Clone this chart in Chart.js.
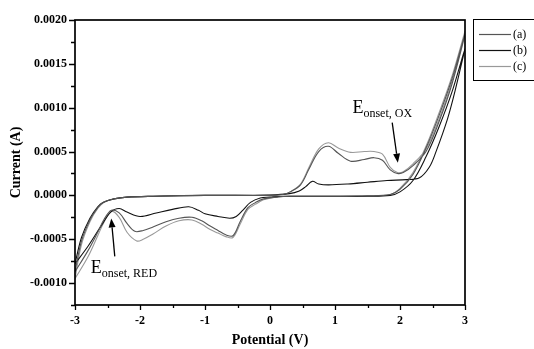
<!DOCTYPE html>
<html>
<head>
<meta charset="utf-8">
<script src="https://cdn.jsdelivr.net/npm/chart.js@4/dist/chart.umd.min.js"></script>
<style>
html,body{margin:0;padding:0;background:#fff;}
#wrap{position:relative;width:534px;height:349px;}
</style>
</head>
<body>
<div id="wrap"><canvas id="c" width="534" height="349"></canvas></div>
<script>
// ---- Data (potential in V, current in A), each curve is a closed CV loop ----
const seriesLabels = ['(a)', '(b)', '(c)'];
const seriesColors = ['#555555', '#111111', '#999999'];

// (a) - larger peaks, middle reduction curve
const potentialA = [-3.0,-2.9,-2.77,-2.65,-2.57,-2.4,-2.2,-1.8,-1.0,0.0,0.2,0.31,0.47,0.6,0.75,0.9,1.05,1.24,1.45,1.6,1.73,1.85,1.96,2.05,2.2,2.4,2.6,2.8,3.0,
  2.8,2.6,2.4,2.2,2.0,1.85,1.5,1.0,0.5,0.3,0.1,-0.1,-0.22,-0.34,-0.46,-0.57,-0.68,-0.8,-0.92,-1.05,-1.2,-1.4,-1.6,-1.8,-1.95,-2.08,-2.2,-2.32,-2.44,-2.55,-2.65,-2.8,-3.0];
const currentA = [-0.00087,-0.00052,-0.00028,-0.00014,-0.00008,-0.00004,-0.00002,-0.00001,0,0,0.00001,0.00004,0.00012,0.0003,0.0005,0.00056,0.00048,0.00039,0.00041,0.00043,0.0004,0.00029,0.00025,0.00026,0.00034,0.0005,0.00084,0.00127,0.00184,
  0.00133,0.00091,0.00054,0.00024,0.00007,0.00001,-0.000005,-0.00001,-0.00001,-0.00001,-0.00002,-0.00004,-0.00008,-0.00014,-0.0003,-0.00046,-0.00045,-0.0004,-0.00035,-0.00029,-0.00025,-0.00026,-0.0003,-0.00036,-0.0004,-0.00041,-0.00032,-0.0002,-0.00017,-0.00027,-0.00042,-0.00063,-0.00087];

// (b) - small peaks
const potentialB = [-3.0,-2.9,-2.77,-2.65,-2.57,-2.4,-2.2,-1.8,-1.0,0.0,0.3,0.45,0.55,0.65,0.75,0.9,1.2,1.5,1.8,2.1,2.3,2.45,2.55,2.73,2.85,3.0,
  2.8,2.6,2.4,2.2,2.0,1.85,1.5,1.0,0.5,0.2,0.0,-0.15,-0.3,-0.42,-0.52,-0.62,-0.8,-1.0,-1.1,-1.25,-1.5,-1.75,-2.0,-2.2,-2.32,-2.45,-2.6,-2.8,-3.0];
const currentB = [-0.00078,-0.00048,-0.00026,-0.00013,-0.00008,-0.00004,-0.00002,-0.00001,0,0.000005,0.00002,0.00005,0.0001,0.00016,0.00013,0.00012,0.00013,0.00015,0.00017,0.00018,0.0002,0.00032,0.00049,0.00087,0.0012,0.00167,
  0.00118,0.00078,0.00044,0.00017,0.00004,0.0,-0.00001,-0.00001,-0.00001,-0.00001,-0.00002,-0.00003,-0.00008,-0.00017,-0.00024,-0.00026,-0.00024,-0.00021,-0.00017,-0.00013,-0.00016,-0.0002,-0.00024,-0.00019,-0.00015,-0.00019,-0.00035,-0.00058,-0.00078];

// (c) - larger peaks, lowest reduction curve
const potentialC = [-3.0,-2.9,-2.77,-2.65,-2.55,-2.4,-2.2,-1.8,-1.0,0.0,0.2,0.31,0.47,0.6,0.75,0.9,1.05,1.24,1.45,1.6,1.73,1.85,1.96,2.05,2.2,2.4,2.6,2.8,3.0,
  2.8,2.6,2.4,2.2,2.0,1.85,1.5,1.0,0.5,0.3,0.1,-0.1,-0.22,-0.34,-0.46,-0.57,-0.68,-0.8,-0.92,-1.05,-1.2,-1.4,-1.6,-1.8,-1.95,-2.05,-2.2,-2.32,-2.44,-2.55,-2.65,-2.8,-3.0];
const currentC = [-0.00095,-0.00056,-0.0003,-0.00015,-0.00008,-0.00004,-0.00002,-0.00001,0,0,0.00001,0.00004,0.00013,0.00032,0.00053,0.0006,0.00054,0.00049,0.0005,0.0005,0.00047,0.00032,0.00026,0.00027,0.00036,0.00053,0.00087,0.0013,0.00187,
  0.00136,0.00094,0.00056,0.00026,0.00008,0.00001,-0.000005,-0.00001,-0.00001,-0.00001,-0.00002,-0.00005,-0.0001,-0.00016,-0.00033,-0.00048,-0.00047,-0.00043,-0.00039,-0.00033,-0.00028,-0.00029,-0.00035,-0.00044,-0.0005,-0.00052,-0.00042,-0.00025,-0.00018,-0.0003,-0.00046,-0.0007,-0.00095];

// axis ranges / ticks
const xRange = [-3, 3];
const yRange = [-0.00125, 0.002];
const xStep = 0.5, xMajor = 1;
const yStep = 0.00025, yMajor = 0.0005;

// annotations (anchored in data coordinates)
const annotations = [
  {main: 'E', sub: 'onset, OX', x: 1.268, y: 0.000936, arrowFrom: [1.880, 0.00083], arrowTo: [1.967, 0.000373]},
  {main: 'E', sub: 'onset, RED', x: -2.758, y: -0.00089, arrowFrom: [-2.388, -0.000696], arrowTo: [-2.442, -0.000263]}
];

function toPts(xs, ys){ return xs.map((v,i)=>({x:v, y:ys[i]})); }
const allSeries = [[potentialA,currentA],[potentialB,currentB],[potentialC,currentC]];

const serif = '"Liberation Serif", "DejaVu Serif", serif';

function isMajor(v, step){ const r = v/step; return Math.abs(r - Math.round(r)) < 1e-6; }

const framePlugin = {
  id: 'frame',
  afterDraw(chart){
    const ctx = chart.ctx, a = chart.chartArea;
    const xs = chart.scales.x, ys = chart.scales.y;
    ctx.save();
    ctx.strokeStyle = '#000';
    ctx.lineWidth = 1.7;
    ctx.strokeRect(a.left, a.top, a.right - a.left, a.bottom - a.top);
    ctx.lineWidth = 1.3;
    ctx.beginPath();
    xs.ticks.forEach(t => {
      const px = Math.round(xs.getPixelForValue(t.value)) + 0.5;
      const len = isMajor(t.value, xMajor) ? 5 : 3;
      ctx.moveTo(px, a.bottom); ctx.lineTo(px, a.bottom + len);
    });
    ys.ticks.forEach(t => {
      const py = Math.round(ys.getPixelForValue(t.value)) + 0.5;
      const len = isMajor(t.value, yMajor) ? 6 : 4;
      ctx.moveTo(a.left, py); ctx.lineTo(a.left - len, py);
    });
    ctx.stroke();

    // annotations
    annotations.forEach(an => {
      const x = xs.getPixelForValue(an.x), y = ys.getPixelForValue(an.y);
      ctx.fillStyle = '#000';
      ctx.strokeStyle = '#000';
      ctx.textBaseline = 'alphabetic';
      ctx.textAlign = 'left';
      ctx.font = '18px ' + serif;
      ctx.fillText(an.main, x, y);
      const w = ctx.measureText(an.main).width;
      ctx.font = '12px ' + serif;
      ctx.fillText(an.sub, x + w, y + 4);
      const x1 = xs.getPixelForValue(an.arrowFrom[0]), y1 = ys.getPixelForValue(an.arrowFrom[1]);
      const x2 = xs.getPixelForValue(an.arrowTo[0]), y2 = ys.getPixelForValue(an.arrowTo[1]);
      const ang = Math.atan2(y2 - y1, x2 - x1);
      const hl = 9, hw = 3.5;
      const bx = x2 - hl*Math.cos(ang), by = y2 - hl*Math.sin(ang);
      ctx.lineWidth = 1.3;
      ctx.beginPath(); ctx.moveTo(x1, y1); ctx.lineTo(bx, by); ctx.stroke();
      ctx.beginPath();
      ctx.moveTo(x2, y2);
      ctx.lineTo(bx + hw*Math.sin(ang), by - hw*Math.cos(ang));
      ctx.lineTo(bx - hw*Math.sin(ang), by + hw*Math.cos(ang));
      ctx.closePath(); ctx.fill();
    });

    // legend box
    const lx = 473, ly = 19, lw = 70, lh = 61;
    ctx.lineWidth = 1;
    ctx.strokeStyle = '#000';
    ctx.strokeRect(lx + 0.5, ly + 0.5, lw, lh);
    chart.data.datasets.forEach((ds, i) => {
      const yy = 34 + i * 16;
      ctx.strokeStyle = ds.borderColor;
      ctx.lineWidth = 1.2;
      ctx.beginPath(); ctx.moveTo(479, yy + 0.5); ctx.lineTo(511, yy + 0.5); ctx.stroke();
      ctx.fillStyle = '#000';
      ctx.font = '12px ' + serif;
      ctx.textBaseline = 'middle';
      ctx.fillText(ds.label, 513, yy + 1);
    });
    ctx.restore();
  }
};

new Chart(document.getElementById('c'), {
  type: 'scatter',
  data: {
    datasets: allSeries.map((s, i) => ({
      label: seriesLabels[i],
      data: toPts(s[0], s[1]),
      showLine: true,
      borderColor: seriesColors[i],
      backgroundColor: seriesColors[i],
      borderWidth: 1.1,
      pointRadius: 0,
      tension: 0.35,
      fill: false
    }))
  },
  options: {
    responsive: false,
    animation: false,
    events: [],
    layout: {padding: {top: 20, right: 69, left: 0, bottom: 0}},
    plugins: {legend: {display: false}, tooltip: {enabled: false}},
    scales: {
      x: {
        type: 'linear', min: xRange[0], max: xRange[1],
        afterFit(s){ s.height = 44; },
        grid: {display: false, drawTicks: false},
        border: {display: false},
        ticks: {
          stepSize: xStep, autoSkip: false, maxRotation: 0, padding: 9,
          color: '#000', font: {family: serif, size: 12, weight: 'bold'},
          callback: v => isMajor(v, xMajor) ? String(Math.round(v)) : ''
        },
        title: {display: true, text: 'Potential (V)', color: '#000', padding: {top: 0, bottom: 0},
          font: {family: serif, size: 14, weight: 'bold'}}
      },
      y: {
        type: 'linear', min: yRange[0], max: yRange[1],
        afterFit(s){ s.width = 75; },
        grid: {display: false, drawTicks: false},
        border: {display: false},
        ticks: {
          stepSize: yStep, autoSkip: false, padding: 8,
          color: '#000', font: {family: serif, size: 12, weight: 'bold'},
          callback: v => isMajor(v, yMajor) ? (Math.abs(v) < 1e-12 ? '0.0000' : v.toFixed(4)) : ''
        },
        title: {display: true, text: 'Current (A)', color: '#000', padding: {top: 8, bottom: 0},
          font: {family: serif, size: 14, weight: 'bold'}}
      }
    }
  },
  plugins: [framePlugin]
});
</script>
</body>
</html>
